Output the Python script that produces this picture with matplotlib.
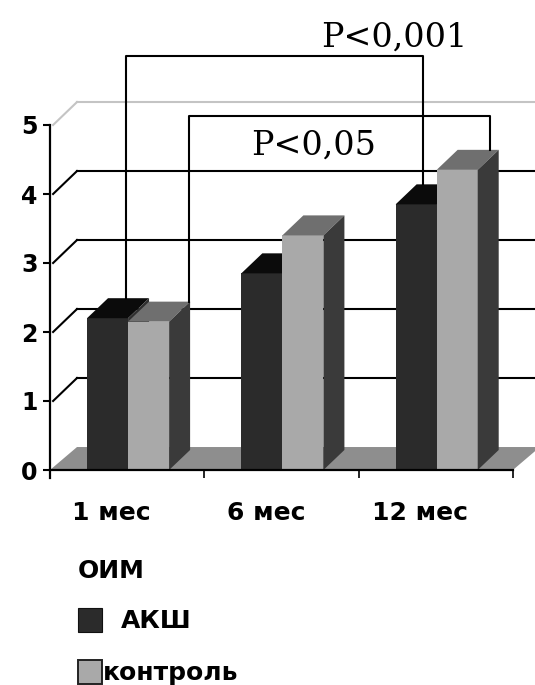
import numpy as np
import matplotlib.pyplot as plt
from matplotlib.patches import Polygon, Rectangle

categories = ['1 мес', '6 мес', '12 мес']
aksh = [2.2, 2.85, 3.85]
control = [2.15, 3.4, 4.35]
series_names = ['АКШ', 'контроль']
legend_title = 'ОИМ'
yticks = [0, 1, 2, 3, 4, 5]

p_labels = ['P<0,001', 'P<0,05']
bracket_x = [(0.49, 2.42), (0.90, 2.85)]
bracket_top = [6.0, 5.13]
p_label_pos = [(2.23, 6.13), (1.71, 4.57)]

# colours: (front, top, side)
aksh_col = ('#2b2b2b', '#0b0b0b', '#303030')
ctrl_col = ('#a9a9a9', '#6f6f6f', '#3a3a3a')
floor_col = '#8e8e8e'

# pseudo-3d depth of wall and bars (data units)
wall_dx, wall_dy = 0.175, 0.333
bar_dx, bar_dy = 0.136, 0.29
bar_w = 0.266
group_off = 0.24

W, H = 535, 685
fig = plt.figure(figsize=(W / 100, H / 100), dpi=100)
ax = fig.add_axes([0, 0, 1, 1])
ax.set_xlim(-50 / 154.3, 485 / 154.3)
ax.set_ylim(-215 / 69, 470 / 69)
ax.set_facecolor('white')

# floor
ax.add_patch(Polygon([(0, 0), (3, 0), (3 + wall_dx, wall_dy), (wall_dx, wall_dy)],
                     closed=True, color=floor_col, lw=0, zorder=1))

# back-wall gridlines with the short diagonals from the axis
x_end = ax.get_xlim()[1]
for v in yticks[1:]:
    c = '#c4c4c4' if v == 5 else 'black'
    ax.plot([0.02, wall_dx], [v, v + wall_dy], color=c, lw=1.5, zorder=1)
    ax.plot([wall_dx, x_end], [v + wall_dy, v + wall_dy], color=c, lw=1.5, zorder=1)


def bar3d(x0, h, cols, z):
    front, top, side = cols
    ax.bar(x0, h, width=bar_w, align='edge', color=front, lw=0, zorder=z)
    ax.add_patch(Polygon([(x0, h), (x0 + bar_w, h), (x0 + bar_w + bar_dx, h + bar_dy),
                          (x0 + bar_dx, h + bar_dy)], closed=True, color=top, lw=0, zorder=z))
    ax.add_patch(Polygon([(x0 + bar_w, 0), (x0 + bar_w + bar_dx, bar_dy),
                          (x0 + bar_w + bar_dx, h + bar_dy), (x0 + bar_w, h)],
                         closed=True, color=side, lw=0, zorder=z))


for i in range(len(categories)):
    bar3d(i + group_off, aksh[i], aksh_col, 3)
    bar3d(i + group_off + bar_w, control[i], ctrl_col, 4)

# significance brackets
tops = [(aksh[0], aksh[2]), (control[0], control[2])]
for (xl, xr), top, (hl, hr) in zip(bracket_x, bracket_top, tops):
    ax.plot([xl, xl, xr, xr], [hl + bar_dy, top, top, hr + bar_dy],
            color='black', lw=1.5, zorder=5)
for lab, (tx, ty) in zip(p_labels, p_label_pos):
    ax.text(tx, ty, lab, ha='center', va='baseline', family='DejaVu Serif',
            fontsize=24, zorder=6)

# axes
for s in ['top', 'right']:
    ax.spines[s].set_visible(False)
ax.spines['left'].set_position(('data', 0))
ax.spines['left'].set_bounds(-0.115, 5)
ax.spines['bottom'].set_position(('data', 0))
ax.spines['bottom'].set_bounds(0, 3)
for s in ['left', 'bottom']:
    ax.spines[s].set_linewidth(1.6)
    ax.spines[s].set_zorder(6)
ax.set_yticks(yticks)
ax.set_yticklabels([str(v) for v in yticks], fontsize=17, fontweight='bold')
ax.tick_params(axis='y', direction='out', length=5, width=1.5, pad=4)
ax.set_xticks([1, 2, 3])
ax.set_xticklabels([])
ax.tick_params(axis='x', direction='out', length=6, width=1.2)
for i, c in enumerate(categories):
    ax.text(i + 0.4, -0.62, c, ha='center', va='center', fontsize=18, fontweight='bold')

# legend
def fx(px):
    return px / W


def fy(py):
    return 1 - py / H


ax.text(fx(78), fy(578), legend_title, transform=ax.transAxes, fontsize=18,
        fontweight='bold', va='baseline')
ax.add_patch(Rectangle((fx(78), fy(632)), fx(24), 24 / H, transform=ax.transAxes,
                       facecolor=aksh_col[0], edgecolor='#111111', lw=0.8))
ax.text(fx(121), fy(628), series_names[0], transform=ax.transAxes, fontsize=18,
        fontweight='bold', va='baseline')
ax.add_patch(Rectangle((fx(78), fy(684)), fx(24), 24 / H, transform=ax.transAxes,
                       facecolor=ctrl_col[0], edgecolor='#222222', lw=1.4))
ax.text(fx(103), fy(680), series_names[1], transform=ax.transAxes, fontsize=18,
        fontweight='bold', va='baseline')

fig.savefig('out.png', dpi=100)
